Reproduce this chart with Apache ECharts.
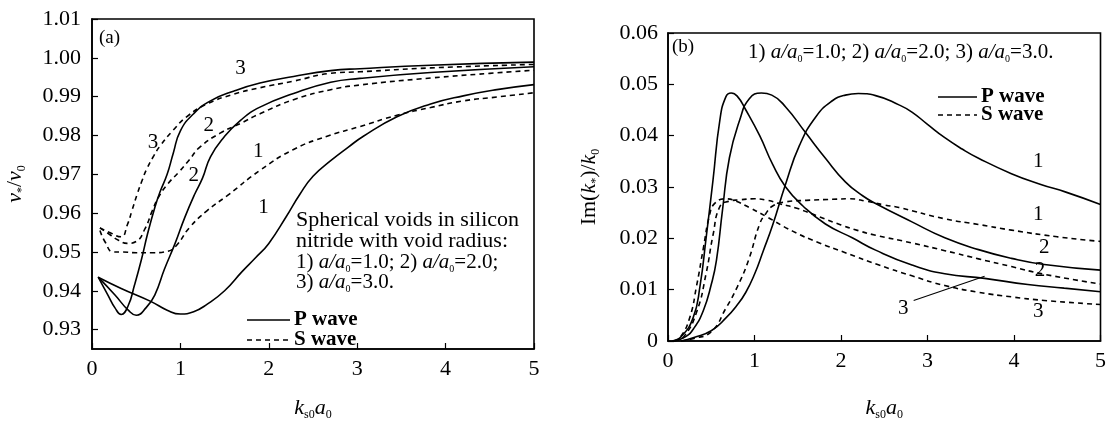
<!DOCTYPE html>
<html>
<head>
<meta charset="UTF-8">
<title>voids</title>
<script src="https://cdn.jsdelivr.net/npm/echarts@6/dist/echarts.min.js"></script>
<style>
html, body { margin: 0; padding: 0; background: #fff; }
#main { width: 1109px; height: 426px; }
</style>
</head>
<body>
<div id="main"></div>
<script>
// panel (a): v*/v0 against k_s0 a0, points [x, y]
var pWave1a = [[0.07,0.9435],[0.33,0.9406],[0.67,0.9372],[0.85,0.9350],[1.0,0.9340],[1.15,0.9346],[1.3,0.9365],[1.5,0.9400],[1.7,0.9450],[1.85,0.9485],[2.0,0.9522],[2.2,0.9592],[2.35,0.9648],[2.5,0.9695],[2.7,0.9735],[2.9,0.9770],[3.07,0.9798],[3.45,0.9848],[3.83,0.9881],[4.2,0.9902],[4.58,0.9918],[5.0,0.9931]];
var pWave2a = [[0.07,0.9435],[0.26,0.9389],[0.41,0.9350],[0.5,0.9337],[0.61,0.9356],[0.71,0.9389],[0.82,0.9456],[0.94,0.9522],[1.05,0.9589],[1.16,0.9648],[1.25,0.9690],[1.34,0.9745],[1.49,0.9795],[1.68,0.9839],[1.9,0.9873],[2.28,0.9908],[2.7,0.9937],[3.03,0.9947],[3.83,0.9962],[5.0,0.9977]];
var pWave3a = [[0.07,0.9435],[0.18,0.9389],[0.26,0.9356],[0.33,0.9339],[0.41,0.9362],[0.48,0.9414],[0.56,0.9481],[0.63,0.9548],[0.71,0.9614],[0.77,0.9655],[0.85,0.9700],[0.92,0.9755],[1.0,0.9812],[1.15,0.9856],[1.34,0.9889],[1.6,0.9914],[1.9,0.9935],[2.28,0.9952],[2.7,0.9967],[3.03,0.9972],[3.83,0.9981],[5.0,0.9989]];
var sWave1a = [[0.09,0.9555],[0.15,0.9525],[0.24,0.9500],[0.35,0.9500],[0.5,0.9498],[0.7,0.9498],[0.86,0.9502],[0.96,0.9518],[1.1,0.9562],[1.3,0.9606],[1.53,0.9645],[1.9,0.9710],[2.28,0.9764],[2.66,0.9798],[3.03,0.9823],[3.45,0.9852],[3.83,0.9872],[4.2,0.9889],[4.58,0.9899],[5.0,0.9910]];
var sWave2a = [[0.09,0.9562],[0.2,0.9545],[0.3,0.9530],[0.4,0.9522],[0.5,0.9527],[0.6,0.9560],[0.68,0.9605],[0.75,0.9640],[0.86,0.9676],[0.98,0.9705],[1.1,0.9737],[1.22,0.9770],[1.45,0.9806],[1.68,0.9831],[1.9,0.9856],[2.28,0.9892],[2.7,0.9918],[3.03,0.9930],[3.83,0.9948],[4.5,0.9960],[5.0,0.9968]];
var sWave3a = [[0.09,0.9562],[0.2,0.9550],[0.33,0.9539],[0.4,0.9570],[0.45,0.9605],[0.51,0.9648],[0.56,0.9680],[0.62,0.9714],[0.7,0.9748],[0.77,0.9773],[0.92,0.9814],[1.07,0.9848],[1.3,0.9881],[1.6,0.9906],[1.9,0.9923],[2.28,0.9940],[2.7,0.9960],[3.03,0.9964],[3.83,0.9974],[5.0,0.9983]];

// panel (b): Im(k*)/k0 against k_s0 a0
var pWave1b = [[0.15,0],[0.3,0.0007],[0.5,0.0020],[0.67,0.0045],[0.8,0.0070],[0.9,0.0095],[1.0,0.0130],[1.1,0.0175],[1.21,0.0226],[1.36,0.0306],[1.52,0.0381],[1.71,0.0437],[1.9,0.0468],[2.05,0.0479],[2.2,0.0482],[2.4,0.0478],[2.67,0.0460],[2.82,0.0446],[3.0,0.0422],[3.2,0.0396],[3.4,0.0374],[3.59,0.0356],[3.97,0.0326],[4.31,0.0305],[4.6,0.0290],[5.0,0.0266]];
var pWave2b = [[0.07,0],[0.2,0.0008],[0.3,0.0025],[0.41,0.0060],[0.5,0.0110],[0.56,0.0157],[0.63,0.0255],[0.71,0.0357],[0.83,0.0431],[0.94,0.0472],[1.08,0.0483],[1.2,0.0479],[1.36,0.0456],[1.59,0.0406],[1.82,0.0356],[2.05,0.0310],[2.25,0.0283],[2.4,0.0268],[2.82,0.0232],[3.2,0.0201],[3.59,0.0178],[3.97,0.0161],[4.35,0.0149],[5.0,0.0138]];
var pWave3b = [[0.05,0],[0.15,0.0008],[0.29,0.0045],[0.37,0.0107],[0.44,0.0200],[0.52,0.0313],[0.6,0.0431],[0.67,0.0476],[0.73,0.0483],[0.8,0.0477],[0.9,0.0450],[1.06,0.0400],[1.21,0.0344],[1.36,0.0300],[1.56,0.0263],[1.82,0.0228],[2.13,0.0201],[2.4,0.0177],[2.82,0.0148],[3.2,0.0131],[3.66,0.0122],[4.16,0.0110],[4.58,0.0103],[5.0,0.0096]];
var sWave1b = [[0.15,0],[0.3,0.0005],[0.5,0.0018],[0.67,0.0064],[0.8,0.0105],[0.93,0.0157],[1.06,0.0228],[1.13,0.0248],[1.21,0.0263],[1.36,0.0271],[1.6,0.0274],[1.9,0.0276],[2.1,0.0277],[2.3,0.0272],[2.5,0.0265],[2.67,0.0260],[3.2,0.0238],[3.59,0.0227],[3.97,0.0216],[4.5,0.0203],[5.0,0.0194]];
var sWave2b = [[0.07,0],[0.18,0.0008],[0.33,0.0056],[0.44,0.0131],[0.52,0.0206],[0.6,0.0262],[0.7,0.0272],[0.83,0.0275],[1.0,0.0277],[1.15,0.0274],[1.3,0.0267],[1.5,0.0258],[1.75,0.0242],[2.0,0.0226],[2.2,0.0215],[2.4,0.0206],[2.82,0.0191],[3.2,0.0176],[3.59,0.0160],[3.97,0.0145],[4.35,0.0130],[5.0,0.0111]];
var sWave3b = [[0.06,0],[0.14,0.0007],[0.25,0.0045],[0.33,0.0107],[0.41,0.0182],[0.48,0.0245],[0.54,0.0268],[0.67,0.0277],[0.79,0.0272],[0.94,0.0260],[1.13,0.0243],[1.44,0.0214],[1.75,0.0191],[2.05,0.0172],[2.44,0.0148],[2.82,0.0127],[3.2,0.0108],[3.59,0.0095],[3.97,0.0086],[4.35,0.0079],[5.0,0.0071]];

// curve number labels [x, y, text]
var curveLabelsA = [[1.68,0.9972,'3'],[1.32,0.9827,'2'],[0.69,0.9781,'3'],[1.88,0.9760,'1'],[1.15,0.9698,'2'],[1.94,0.9614,'1']];
var curveLabelsB = [[4.28,0.0350,'1'],[4.28,0.0247,'1'],[4.35,0.0182,'2'],[4.3,0.0138,'2'],[4.28,0.0057,'3'],[2.72,0.0064,'3']];
var pointerB = [[2.84,0.0079],[3.66,0.0126]];

var yTicksA = [0.93, 0.94, 0.95, 0.96, 0.97, 0.98, 0.99, 1.00, 1.01];

var F = '"Liberation Serif", "DejaVu Serif", serif';
var INK = '#000';

var rich = {
    n: { fontFamily: F, fontSize: 22, color: INK, lineHeight: 26, verticalAlign: 'middle' },
    i: { fontFamily: F, fontSize: 22, fontStyle: 'italic', color: INK, lineHeight: 26, verticalAlign: 'middle' },
    s: { fontFamily: F, fontSize: 12, color: INK, lineHeight: 26, verticalAlign: 'bottom' },
    tn: { fontFamily: F, fontSize: 21, color: INK, lineHeight: 24, verticalAlign: 'middle' },
    ti: { fontFamily: F, fontSize: 21, fontStyle: 'italic', color: INK, lineHeight: 24, verticalAlign: 'middle' },
    ts: { fontFamily: F, fontSize: 10, color: INK, lineHeight: 24, verticalAlign: 'bottom' }
};

function solid(name, data, xi) {
    return { name: name, type: 'line', xAxisIndex: xi, yAxisIndex: xi, data: data,
        smooth: 0.5, symbol: 'none', silent: true,
        lineStyle: { color: INK, width: 1.6 } };
}
function dashed(name, data, xi) {
    return { name: name, type: 'line', xAxisIndex: xi, yAxisIndex: xi, data: data,
        smooth: 0.5, symbol: 'none', silent: true,
        lineStyle: { color: INK, width: 1.6, type: [5, 4] } };
}
// curve numbers drawn through the axes with a custom series
function numbers(data, xi) {
    return { type: 'custom', xAxisIndex: xi, yAxisIndex: xi, data: data, silent: true,
        renderItem: function (params, api) {
            var p = api.coord([api.value(0), api.value(1)]);
            return { type: 'text', x: p[0], y: p[1],
                style: { text: data[params.dataIndex][2], fontFamily: F, fontSize: 21,
                    fill: INK, align: 'center', verticalAlign: 'middle' } };
        } };
}

function xAxisFor(gi, gap) {
    return {
        type: 'value', gridIndex: gi, min: 0, max: 5, interval: 1,
        name: '{i|k}{s|s0}{i|a}{s|0}', nameLocation: 'middle', nameGap: gap,
        nameTextStyle: { rich: rich },
        axisLine: { lineStyle: { color: INK, width: 1.6 } },
        axisTick: { inside: true, length: 6, lineStyle: { color: INK, width: 1.2 } },
        axisLabel: { margin: 9, fontFamily: F, fontSize: 22, color: INK },
        splitLine: { show: false }
    };
}

var myChart = echarts.init(document.getElementById('main'), null, { renderer: 'canvas' });

var option = {
    backgroundColor: '#fff',
    animation: false,
    grid: [
        { left: 92, top: 19, width: 442, height: 340, show: true, borderColor: INK, borderWidth: 1.6, backgroundColor: 'transparent' },
        { left: 668, top: 33, width: 435, height: 321, show: true, borderColor: INK, borderWidth: 1.6, backgroundColor: 'transparent' }
    ],
    xAxis: [xAxisFor(0, 46), xAxisFor(1, 54)],
    yAxis: [
        {
            type: 'value', gridIndex: 0, min: 0.925, max: 1.01,
            name: '{i|v}{s|*}{n|/}{i|v}{s|0}', nameLocation: 'middle', nameGap: 64, nameRotate: 90,
            nameTextStyle: { rich: rich },
            axisLine: { lineStyle: { color: INK, width: 1.6 } },
            axisTick: { inside: true, length: 6, customValues: yTicksA, lineStyle: { color: INK, width: 1.2 } },
            axisLabel: { margin: 11, customValues: yTicksA, fontFamily: F, fontSize: 22, color: INK,
                formatter: function (v) { return v.toFixed(2); } },
            splitLine: { show: false }
        },
        {
            type: 'value', gridIndex: 1, min: 0, max: 0.06, interval: 0.01,
            name: '{n|Im(}{i|k}{s|*}{n|)/}{i|k}{s|0}', nameLocation: 'middle', nameGap: 66, nameRotate: 90,
            nameTextStyle: { rich: rich },
            axisLine: { lineStyle: { color: INK, width: 1.6 } },
            axisTick: { inside: true, length: 6, lineStyle: { color: INK, width: 1.2 } },
            axisLabel: { margin: 10, fontFamily: F, fontSize: 22, color: INK,
                formatter: function (v) { return v === 0 ? '0' : v.toFixed(2); } },
            splitLine: { show: false }
        }
    ],
    series: [
        solid('P wave', pWave1a, 0), solid('P wave', pWave2a, 0), solid('P wave', pWave3a, 0),
        dashed('S wave', sWave1a, 0), dashed('S wave', sWave2a, 0), dashed('S wave', sWave3a, 0),
        numbers(curveLabelsA, 0),
        solid('P wave', pWave1b, 1), solid('P wave', pWave2b, 1), solid('P wave', pWave3b, 1),
        dashed('S wave', sWave1b, 1), dashed('S wave', sWave2b, 1), dashed('S wave', sWave3b, 1),
        numbers(curveLabelsB, 1),
        { type: 'line', xAxisIndex: 1, yAxisIndex: 1, data: pointerB, symbol: 'none', silent: true,
          lineStyle: { color: INK, width: 1.1 } }
    ],
    graphic: [
        { type: 'text', x: 99, y: 38, style: { text: '(a)', fontFamily: F, fontSize: 19, fill: INK, verticalAlign: 'middle' } },
        { type: 'text', x: 672, y: 47, style: { text: '(b)', fontFamily: F, fontSize: 19, fill: INK, verticalAlign: 'middle' } },
        { type: 'text', x: 296, y: 220, style: { text: 'Spherical voids in silicon', fontFamily: F, fontSize: 22, fill: INK, verticalAlign: 'middle' } },
        { type: 'text', x: 296, y: 241, style: { text: 'nitride with void radius:', fontFamily: F, fontSize: 22, fill: INK, verticalAlign: 'middle' } },
        { type: 'text', x: 296, y: 262, style: { text: '{tn|1) }{ti|a/a}{ts|0}{tn|=1.0; 2) }{ti|a/a}{ts|0}{tn|=2.0;}', rich: rich, verticalAlign: 'middle' } },
        { type: 'text', x: 296, y: 282, style: { text: '{tn|3) }{ti|a/a}{ts|0}{tn|=3.0.}', rich: rich, verticalAlign: 'middle' } },
        { type: 'line', shape: { x1: 247, y1: 320, x2: 290, y2: 320 }, style: { stroke: INK, lineWidth: 1.6 } },
        { type: 'line', shape: { x1: 247, y1: 340, x2: 290, y2: 340 }, style: { stroke: INK, lineWidth: 1.6, lineDash: [5, 4] } },
        { type: 'text', x: 294, y: 320, style: { text: 'P wave', fontFamily: F, fontSize: 21, fontWeight: 'bold', fill: INK, verticalAlign: 'middle' } },
        { type: 'text', x: 294, y: 340, style: { text: 'S wave', fontFamily: F, fontSize: 21, fontWeight: 'bold', fill: INK, verticalAlign: 'middle' } },
        { type: 'text', x: 748, y: 52, style: { text: '{tn|1) }{ti|a/a}{ts|0}{tn|=1.0; 2) }{ti|a/a}{ts|0}{tn|=2.0; 3) }{ti|a/a}{ts|0}{tn|=3.0.}', rich: rich, verticalAlign: 'middle' } },
        { type: 'line', shape: { x1: 938, y1: 97, x2: 977, y2: 97 }, style: { stroke: INK, lineWidth: 1.6 } },
        { type: 'line', shape: { x1: 938, y1: 115, x2: 977, y2: 115 }, style: { stroke: INK, lineWidth: 1.6, lineDash: [5, 4] } },
        { type: 'text', x: 981, y: 97, style: { text: 'P wave', fontFamily: F, fontSize: 21, fontWeight: 'bold', fill: INK, verticalAlign: 'middle' } },
        { type: 'text', x: 981, y: 115, style: { text: 'S wave', fontFamily: F, fontSize: 21, fontWeight: 'bold', fill: INK, verticalAlign: 'middle' } }
    ]
};

myChart.setOption(option);
window.addEventListener('resize', function () {
    myChart.resize();
});
</script>
</body>
</html>
